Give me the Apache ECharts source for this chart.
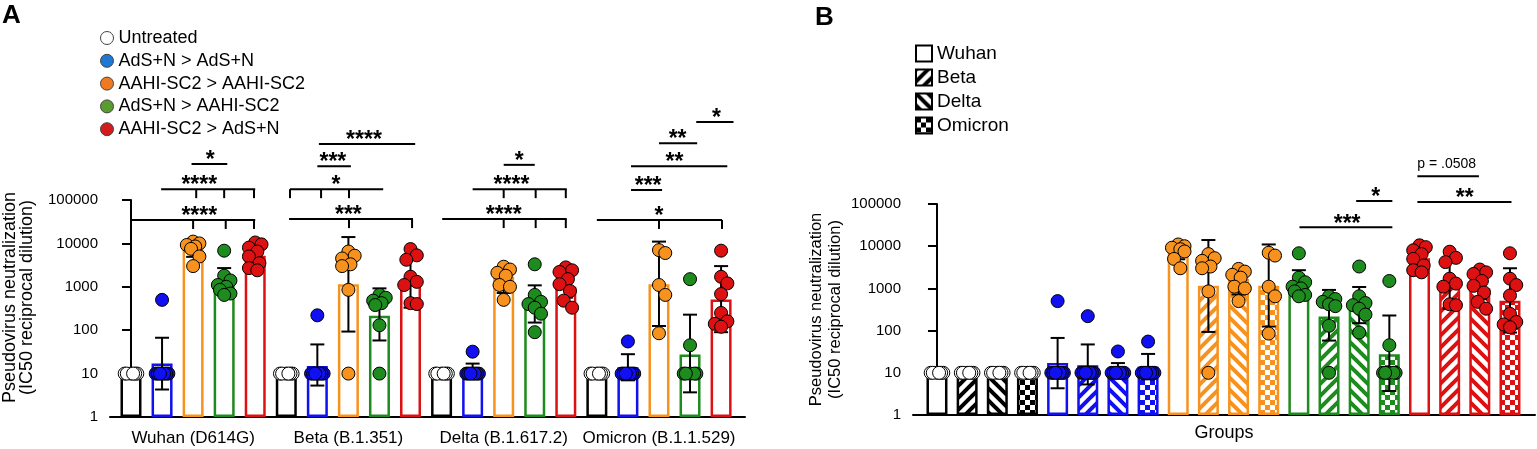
<!DOCTYPE html>
<html><head><meta charset="utf-8">
<script src="https://cdn.jsdelivr.net/npm/echarts@6/dist/echarts.min.js"></script>
<style>html,body{margin:0;padding:0;background:#fff}#c{width:1537px;height:449px}</style>
</head><body><div id="c"></div>
<script>
// ---------------- DATA ----------------
const treatments = ['Untreated','AdS+N > AdS+N','AAHI-SC2 > AAHI-SC2','AdS+N > AAHI-SC2','AAHI-SC2 > AdS+N'];
const variants = ['Wuhan','Beta','Delta','Omicron'];
const variantLabels = ['Wuhan (D614G)','Beta (B.1.351)','Delta (B.1.617.2)','Omicron (B.1.1.529)'];
const yTicks = [1,10,100,1000,10000,100000];

// individual animals, per variant [Wuhan, Beta, Delta, Omicron]
const ptsUntreated = [[10,10,10,10,10,10],[10,10,10,10,10,10],[10,10,10,10,10,10],[10,10,10,10,10,10]];
const ptsAdsAds = [[500,10,10,10,10,10,10,10],[220,10,10,10,10,10,10,10],[32,10,10,10,10,10,10,10],[55,10,10,10,10,10,10,10]];
const ptsAahiAahi = [[11000,10000,9200,8500,7500,5000,3000],[6500,5200,4500,3300,3000,850,10],[2900,2500,2100,1800,1100,1000,500],[7000,6000,1100,650,85]];
const ptsAdsAahi = [[6800,1800,1400,1100,1000,850,700,650],[650,560,480,420,380,130,10],[3300,650,450,400,330,240,90],[1500,45,10,10,10,10,10]];
const ptsAahiAds = [[10500,9500,8000,6500,5000,3500,2700,2400],[7400,5300,4200,1700,1300,1100,420,400],[2800,2400,2200,1500,1150,800,480,330],[6800,1700,1200,680,250,160,140,120]];

// geometric mean (bar height) per variant
const gmUntreated = [10,10,10,10];
const gmAdsAds = [17,15,12.5,14];
const gmAahiAahi = [7200,1150,1700,1150];
const gmAdsAahi = [1300,215,380,27.5];
const gmAahiAds = [5200,1150,1000,510];

// error bar low / high per variant
const lowAdsAds = [4.3,5.3,9.5,7];
const highAdsAds = [67,47,17,28];
const lowAahiAahi = [4900,93,720,125];
const highAahiAahi = [10000,14000,2700,11000];
const lowAdsAahi = [650,58,150,3.7];
const highAdsAahi = [2700,920,1080,228];
const lowAahiAds = [3400,330,560,90];
const highAahiAds = [8000,4800,1700,3000];

// significance annotations (positions in bar slots, heights in log10 units)
const sigA = [
  {t:'*',    x1:1.95, x2:3.1,  lv:5.83, ticks:[], lx:2.55},
  {t:'****', x1:0.97, x2:4.0,  lv:5.25, ticks:[2.1,3.0,3.96], lx:2.2},
  {t:'****', x1:0.03, x2:4.0,  lv:4.54, ticks:[2.0,3.05,3.96], lx:2.2},
  {t:'****', x1:6.05, x2:9.15, lv:6.29, ticks:[], lx:7.5},
  {t:'***',  x1:6.0,  x2:7.08, lv:5.78, ticks:[], lx:6.5},
  {t:'*',    x1:5.12, x2:8.12, lv:5.25, ticks:[5.12,6.12,7.02], lx:6.6},
  {t:'***',  x1:5.09, x2:9.08, lv:4.56, ticks:[7.02,9.05], lx:7.0},
  {t:'*',    x1:12.0, x2:13.0, lv:5.81, ticks:[], lx:12.5},
  {t:'****', x1:11.0, x2:14.03,lv:5.25, ticks:[12,13.03,14], lx:12.25},
  {t:'****', x1:10.02,x2:14.03,lv:4.56, ticks:[12,13.03,14], lx:12.0},
  {t:'*',    x1:18.2, x2:19.4, lv:6.80, ticks:[], lx:18.85},
  {t:'**',   x1:17.0, x2:18.23,lv:6.31, ticks:[], lx:17.6},
  {t:'**',   x1:16.1, x2:19.2, lv:5.78, ticks:[], lx:17.5},
  {t:'***',  x1:16.1, x2:17.1, lv:5.23, ticks:[], lx:16.65},
  {t:'*',    x1:15.0, x2:19.03,lv:4.54, ticks:[17.0,19.03], lx:17.0}
];
const sigB = [
  {t:'p = .0508', x1:15.93, x2:17.97, lv:5.66, ticks:[], lx:16.9, small:true},
  {t:'**',  x1:15.93, x2:19.05, lv:5.05, ticks:[], lx:17.5},
  {t:'*',   x1:13.9,  x2:15.1,  lv:5.07, ticks:[], lx:14.55},
  {t:'***', x1:12.02, x2:15.1,  lv:4.45, ticks:[], lx:13.6}
];

// ---------------- STYLE ----------------
const FONT = "'Liberation Sans', Arial, Helvetica, sans-serif";
const treatColors = ['#000000','#1010F0','#F7921E','#1E8B1E','#DD1111'];
const pointColors = ['#FFFFFF','#1010F0','#F7921E','#1E8B1E','#DD1111'];
const legendColors = ['#FFFFFF','#1F78D2','#F07A21','#5A9B2F','#D41B1B'];

const points = [ptsUntreated, ptsAdsAds, ptsAahiAahi, ptsAdsAahi, ptsAahiAds];
const gms = [gmUntreated, gmAdsAds, gmAahiAahi, gmAdsAahi, gmAahiAds];
const lows = [null, lowAdsAds, lowAahiAahi, lowAdsAahi, lowAahiAds];
const highs = [null, highAdsAds, highAahiAahi, highAdsAahi, highAahiAds];

function makePattern(kind, color) {
  const c = document.createElement('canvas');
  const g = c.getContext('2d');
  if (kind === 'none') { c.width = c.height = 4; g.fillStyle = '#fff'; g.fillRect(0,0,4,4); return {image:c, repeat:'repeat'}; }
  if (kind === 'check') {
    c.width = c.height = 10;
    g.fillStyle = '#fff'; g.fillRect(0,0,10,10);
    g.fillStyle = color; g.fillRect(0,0,5,5); g.fillRect(5,5,5,5);
    return {image:c, repeat:'repeat'};
  }
  const s = 12; c.width = c.height = s;
  g.fillStyle = '#fff'; g.fillRect(0,0,s,s);
  g.strokeStyle = color; g.lineWidth = 4; g.lineCap = 'square';
  g.beginPath();
  for (let k = -1; k <= 1; k++) {
    if (kind === 'fwd') { g.moveTo(k*s, s); g.lineTo(k*s + s, 0); }
    else { g.moveTo(k*s, 0); g.lineTo(k*s + s, s); }
  }
  g.stroke();
  return {image:c, repeat:'repeat'};
}
const patternKinds = ['none','fwd','back','check'];

// beeswarm offsets (layout only)
function swarm(vals, pxX, pxDec) {
  const order = vals.map((v,i)=>i).sort((a,b)=>vals[b]-vals[a]);
  const cands = [0]; for (let k=1;k<=3;k++){ cands.push(k*2.1, -k*2.1); }
  const placed = []; const off = new Array(vals.length).fill(0);
  const D = 11;
  for (const i of order) {
    const yy = Math.log10(vals[i]) * pxDec;
    let best = 0, bestD = -1;
    for (const c of cands) {
      let md = Infinity;
      for (const p of placed) { const d = Math.hypot(c-p[0], yy-p[1]); if (d < md) md = d; }
      if (md >= D) { best = c; bestD = md; break; }
      if (md > bestD) { bestD = md; best = c; }
    }
    placed.push([best, yy]); off[i] = best / pxX;
  }
  return off;
}
const pxA = {x:31.06, dec:43.4}, pxB = {x:30.16, dec:42.2};
const slotA = (t,v) => v*5 + t;
const slotB = (t,v) => t*4 + v;

function errRender(params, api) {
  const x = api.value(0), lo = api.value(1), hi = api.value(2);
  const a = api.coord([x, lo]), b = api.coord([x, hi]);
  const hw = 7, st = {stroke:'#000', lineWidth:2};
  return {type:'group', children:[
    {type:'line', shape:{x1:a[0],y1:a[1],x2:a[0],y2:b[1]}, style:st},
    {type:'line', shape:{x1:a[0]-hw,y1:a[1],x2:a[0]+hw,y2:a[1]}, style:st},
    {type:'line', shape:{x1:a[0]-hw,y1:b[1],x2:a[0]+hw,y2:b[1]}, style:st}
  ]};
}
function sigRender(list) {
  return function(params, api) {
    const b = list[params.dataIndex];
    const y = api.coord([0, Math.pow(10, b.lv)])[1];
    const X = s => api.coord([s, 1])[0];
    const st = {stroke:'#000', lineWidth:2};
    const ch = [{type:'line', shape:{x1:X(b.x1), y1:y, x2:X(b.x2), y2:y}, style:st}];
    b.ticks.forEach(s => ch.push({type:'line', shape:{x1:X(s), y1:y, x2:X(s), y2:y+9}, style:st}));
    ch.push({type:'text', x:X(b.lx), y: b.small ? y-12 : y-3,
      style:{text:b.t, fill:'#000', align:'center', verticalAlign:'middle',
             font: b.small ? ('14px ' + FONT) : ('bold 23px ' + FONT)}});
    return {type:'group', children:ch};
  };
}

// ---------------- SERIES ----------------
const series = [];
series.push({type:'bar', name:'barsA', xAxisIndex:0, yAxisIndex:0, barWidth:21, z:2, silent:true,
  data: [].concat(...variants.map((_,v)=>treatments.map((_,t)=>({
    value:[slotA(t,v), gms[t][v]],
    itemStyle:{color:'#FFFFFF', borderColor:treatColors[t], borderWidth:2.5}
  }))))
});
variants.forEach((vn, v) => {
  series.push({type:'bar', name:vn, xAxisIndex:1, yAxisIndex:1, barWidth:21, barGap:'-100%', z:2, silent:true,
    itemStyle:{color: makePattern(patternKinds[v], '#000'), borderColor:'#000', borderWidth:2},
    data: treatments.map((_,t)=>({
      value:[slotB(t,v), gms[t][v]],
      itemStyle:{color: makePattern(patternKinds[v], treatColors[t]), borderColor:treatColors[t], borderWidth:2.5}
    }))
  });
});
[[0, slotA],[1, slotB]].forEach(([ax, slot]) => {
  const d = [];
  for (let t=1;t<5;t++) for (let v=0;v<4;v++) d.push([slot(t,v), lows[t][v], highs[t][v]]);
  series.push({type:'custom', xAxisIndex:ax, yAxisIndex:ax, clip:false, z:3, silent:true,
    encode:{x:0, y:[1,2]}, renderItem: errRender, data:d});
});
[[0, slotA, pxA],[1, slotB, pxB]].forEach(([ax, slot, px]) => {
  treatments.forEach((tn, t) => {
    const d = [];
    variants.forEach((_, v) => {
      const offs = swarm(points[t][v], px.x, px.dec);
      points[t][v].forEach((val, i) => d.push([slot(t,v) + offs[i], val]));
    });
    series.push({type:'scatter', name:tn, xAxisIndex:ax, yAxisIndex:ax, z:4, silent:true,
      symbol:'circle', symbolSize:13,
      itemStyle:{color:pointColors[t], borderColor:'#000', borderWidth:1, opacity:1}, data:d});
  });
});
[[0, sigA],[1, sigB]].forEach(([ax, list]) => {
  series.push({type:'custom', xAxisIndex:ax, yAxisIndex:ax, clip:false, z:5, silent:true,
    encode:{x:0, y:1}, renderItem: sigRender(list),
    data: list.map(b => [b.lx, Math.pow(10, b.lv)])});
});

// ---------------- AXES ----------------
const yAxisBase = {
  type:'log', logBase:10, min:yTicks[0], max:yTicks[yTicks.length-1],
  nameLocation:'middle', nameRotate:90,
  axisLine:{show:true, lineStyle:{color:'#000', width:2}},
  axisTick:{show:true, length:9, lineStyle:{color:'#000', width:2}},
  axisLabel:{color:'#000', fontSize:15, fontFamily:FONT, margin:12, formatter: v => String(Math.round(v))},
  splitLine:{show:false}
};

const option = {
  animation:false,
  backgroundColor:'#fff',
  textStyle:{fontFamily:FONT, color:'#000'},
  title:[
    {text:'A', left:-3, top:-2, textStyle:{fontSize:26, fontWeight:'bold', color:'#000', fontFamily:FONT}},
    {text:'B', left:810, top:0, textStyle:{fontSize:26, fontWeight:'bold', color:'#000', fontFamily:FONT}}
  ],
  legend:[
    {orient:'vertical', left:95, top:23, itemWidth:13, itemHeight:13, itemGap:2.8, icon:'circle', selectedMode:false,
     textStyle:{fontSize:18, lineHeight:20, color:'#000', fontFamily:FONT},
     data: treatments.map((n,i)=>({name:n, itemStyle:{color:legendColors[i], borderColor:'#444', borderWidth:1}}))},
    {orient:'vertical', left:910, top:38, itemWidth:16, itemHeight:16, itemGap:3, icon:'rect', selectedMode:false,
     textStyle:{fontSize:19, lineHeight:21, color:'#000', fontFamily:FONT},
     data: variants.map(n=>({name:n, itemStyle:{borderColor:'#000', borderWidth:2}}))}
  ],
  grid:[
    {left:110, top:200, width:635, height:217, outerBoundsMode:'none', containLabel:false},
    {left:913, top:204, width:622, height:211, outerBoundsMode:'none', containLabel:false}
  ],
  xAxis:[
    {type:'value', gridIndex:0, min:-0.676, max:19.77,
     axisLine:{show:true, onZero:false, lineStyle:{color:'#000', width:2}},
     axisTick:{show:false}, splitLine:{show:false},
     axisLabel:{show:true, customValues:[2,7,12,17], color:'#000', fontSize:17, fontFamily:FONT, margin:13,
       formatter: v => variantLabels[Math.round((v-2)/5)] || ''}},
    {type:'value', gridIndex:1, min:-0.795, max:19.83,
     axisLine:{show:true, onZero:false, lineStyle:{color:'#000', width:2}},
     axisTick:{show:false}, splitLine:{show:false}, axisLabel:{show:false},
     name:'Groups', nameLocation:'middle', nameGap:9,
     nameTextStyle:{fontSize:18, color:'#000', fontFamily:FONT}}
  ],
  yAxis:[
    Object.assign({}, yAxisBase, {gridIndex:0, name:'Pseudovirus neutralization\n(IC50 reciprocal dilution)', nameGap:74,
      nameTextStyle:{fontSize:18, lineHeight:17, color:'#000', fontFamily:FONT, padding:[0,0,0,22]}}),
    Object.assign({}, yAxisBase, {gridIndex:1, name:'Pseudovirus neutralization\n(IC50 reciprocal dilution)', nameGap:68,
      nameTextStyle:{fontSize:16.5, lineHeight:19, color:'#000', fontFamily:FONT}})
  ],
  series: series
};
const chart = echarts.init(document.getElementById('c'), null, {renderer:'canvas'});
chart.setOption(option);
</script></body></html>
